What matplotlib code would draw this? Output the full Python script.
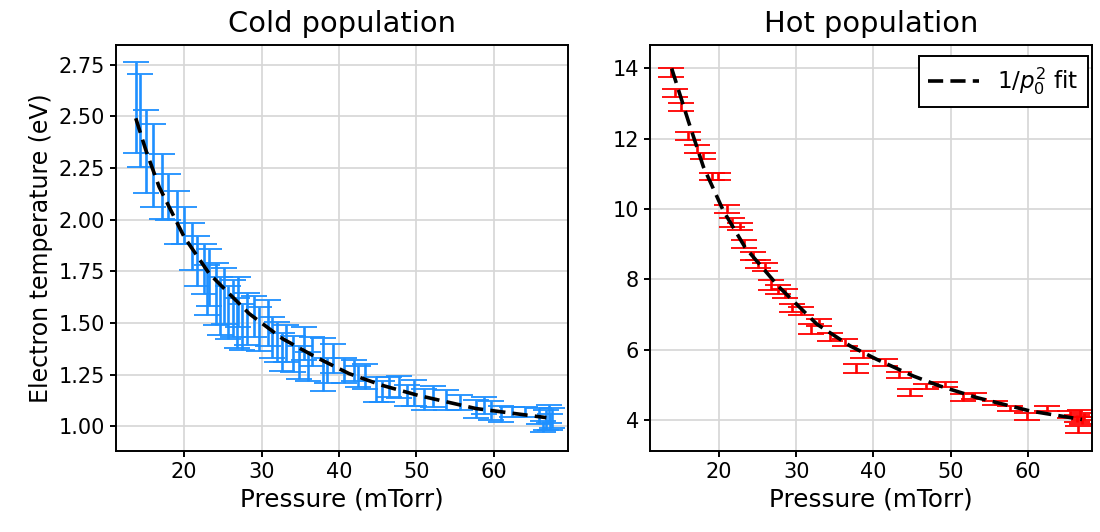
import matplotlib
matplotlib.use("Agg")
import matplotlib.pyplot as plt

# cold population: pressure (mTorr), Te (eV), error (eV)
cold_p = [13.75, 14.35, 15.12, 16.03, 17.10, 17.97, 19.05, 19.96, 21.00, 21.72,
          22.50, 22.90, 23.23, 24.10, 24.60, 25.20, 25.70, 26.25, 26.80, 27.00,
          27.50, 28.10, 29.00, 29.70, 30.80, 31.30, 32.00, 32.60, 33.15, 34.10,
          34.80, 35.50, 36.00, 36.50, 37.90, 38.50, 39.20, 40.60, 41.90, 42.50,
          43.40, 44.80, 45.50, 46.50, 47.80, 48.80, 49.75, 51.00, 52.20, 53.85,
          55.66, 57.70, 58.80, 59.70, 61.00, 62.30, 64.00, 65.80, 66.35, 66.80,
          67.10, 67.30, 67.50]
cold_te = [2.54, 2.48, 2.33, 2.26, 2.16, 2.11, 2.01, 1.97, 1.87, 1.80,
           1.76, 1.66, 1.72, 1.64, 1.58, 1.63, 1.55, 1.57, 1.50, 1.60,
           1.48, 1.52, 1.53, 1.47, 1.50, 1.43, 1.41, 1.36, 1.40, 1.35,
           1.31, 1.40, 1.29, 1.36, 1.30, 1.27, 1.33, 1.27, 1.27, 1.24,
           1.24, 1.18, 1.17, 1.19, 1.19, 1.15, 1.16, 1.13, 1.145, 1.128,
           1.114, 1.084, 1.10, 1.076, 1.06, 1.069, 1.068, 1.05, 1.00, 1.03,
           1.06, 1.02, 1.04]
cold_err = [0.22, 0.225, 0.20, 0.20, 0.155, 0.11, 0.127, 0.09, 0.113, 0.123,
            0.12, 0.12, 0.139, 0.15, 0.14, 0.137, 0.13, 0.137, 0.12, 0.12,
            0.11, 0.126, 0.10, 0.106, 0.11, 0.10, 0.097, 0.09, 0.09, 0.089,
            0.08, 0.08, 0.07, 0.07, 0.129, 0.06, 0.07, 0.06, 0.05, 0.05,
            0.06, 0.06, 0.05, 0.05, 0.053, 0.05, 0.063, 0.05, 0.05, 0.047,
            0.037, 0.042, 0.04, 0.047, 0.04, 0.024, 0.025, 0.04, 0.028, 0.05,
            0.045, 0.04, 0.05]

# hot population
hot_p = [13.74, 14.34, 15.10, 16.02, 17.10, 17.97, 19.05, 19.90, 21.00, 21.73,
         22.72, 23.28, 24.37, 25.10, 25.96, 26.74, 27.70, 28.60, 29.50, 30.58,
         31.90, 33.00, 34.40, 36.30, 37.80, 38.70, 41.50, 43.30, 44.70, 46.80,
         49.30, 51.60, 53.00, 55.75, 57.70, 59.90, 62.45, 65.50, 66.30, 66.80,
         67.00, 67.30, 66.50]
hot_te = [13.87, 13.30, 12.90, 12.07, 11.70, 11.50, 10.91, 10.91, 10.00, 9.62,
          9.49, 9.00, 8.67, 8.43, 8.35, 7.84, 7.71, 7.60, 7.18, 7.10,
          6.58, 6.77, 6.37, 6.20, 5.47, 5.87, 5.63, 5.28, 4.78, 4.95,
          5.00, 4.64, 4.68, 4.49, 4.33, 4.11, 4.33, 4.15, 4.05, 4.20,
          4.00, 4.10, 3.73]
hot_err = [0.12, 0.12, 0.12, 0.12, 0.11, 0.08, 0.10, 0.10, 0.12, 0.12,
           0.10, 0.12, 0.12, 0.12, 0.12, 0.13, 0.13, 0.12, 0.12, 0.12,
           0.14, 0.10, 0.12, 0.10, 0.13, 0.10, 0.10, 0.08, 0.10, 0.07,
           0.07, 0.10, 0.08, 0.05, 0.07, 0.10, 0.07, 0.10, 0.10, 0.10,
           0.10, 0.10, 0.10]

# fitted curves
fit_p_cold = [13.75, 15.1, 16.77, 20.0, 23.23, 28.4, 32.7, 37.0, 41.3, 45.6, 50.2, 57.7, 66.8]
fit_te_cold = [2.49, 2.33, 2.158, 1.916, 1.739, 1.545, 1.424, 1.335, 1.255, 1.198, 1.15, 1.086, 1.042]
fit_p_hot = [13.87, 16.02, 17.97, 20.56, 23.37, 27.7, 32.66, 36.97, 40.4, 45.2, 48.6, 53.4, 60.3, 67.0]
fit_te_hot = [13.99, 12.5, 11.2, 9.95, 8.91, 7.8, 6.73, 6.11, 5.73, 5.25, 4.97, 4.64, 4.26, 4.02]

BLUE = "#1e90ff"
RED = "#ff0000"

plt.rcParams.update({
    "font.size": 15,
    "axes.linewidth": 1.4,
    "xtick.major.width": 1.4,
    "ytick.major.width": 1.4,
    "xtick.major.size": 4.5,
    "ytick.major.size": 4.5,
})

fig = plt.figure(figsize=(11, 5.32), dpi=100)
ax1 = fig.add_axes([0.1055, 0.152, 0.4109, 0.7636])
ax2 = fig.add_axes([0.5909, 0.152, 0.4018, 0.7636])

eb = dict(fmt="none", capsize=9.6, elinewidth=1.9, capthick=1.3)
ax1.errorbar(cold_p, cold_te, yerr=cold_err, ecolor=BLUE, **eb)
ax2.errorbar(hot_p, hot_te, yerr=hot_err, ecolor=RED, **eb)

ln = dict(color="black", lw=2.6, ls=(0, (4.2, 2.0)))
ax1.plot(fit_p_cold, fit_te_cold, **ln)
ax2.plot(fit_p_hot, fit_te_hot, label=r"$1/p_0^2$ fit", **ln)

ax1.set_xlim(11.2, 69.6)
ax1.set_ylim(0.88, 2.845)
ax2.set_xlim(11.06, 68.3)
ax2.set_ylim(3.12, 14.66)
ax1.set_yticks([1.0, 1.25, 1.5, 1.75, 2.0, 2.25, 2.5, 2.75])
ax2.set_yticks([4, 6, 8, 10, 12, 14])

for ax in (ax1, ax2):
    ax.set_xticks([20, 30, 40, 50, 60])
    ax.grid(True, color="#d6d6d6", lw=1.2)
    ax.set_axisbelow(True)
    ax.set_xlabel("Pressure (mTorr)", fontsize=17.8)

ax1.set_ylabel("Electron temperature (eV)", fontsize=17)
ax1.set_title("Cold population", fontsize=20.8, pad=9)
ax2.set_title("Hot population", fontsize=20.8, pad=9)

leg = ax2.legend(loc="upper right", bbox_to_anchor=(1.017, 1.0), fontsize=16.6,
                 handlelength=2.2, fancybox=False, framealpha=1, edgecolor="black")
leg.get_frame().set_linewidth(1.4)

fig.savefig("out.png", dpi=100)
